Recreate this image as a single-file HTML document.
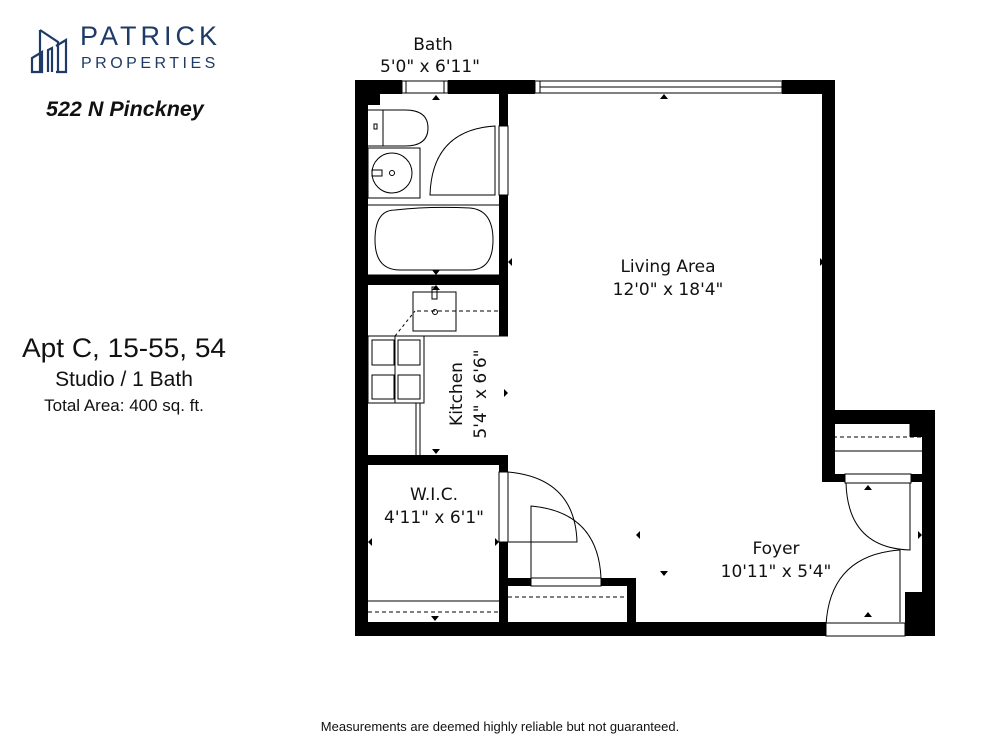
<!DOCTYPE html>
<html><head><meta charset="utf-8"><style>
html,body{margin:0;padding:0;background:#fff;}
body{width:1000px;height:750px;position:relative;overflow:hidden;font-family:"Liberation Sans","DejaVu Sans",sans-serif;}
</style></head><body>
<svg width="1000" height="750" viewBox="0 0 1000 750" xmlns="http://www.w3.org/2000/svg" style="position:absolute;left:0;top:0">
<!-- Logo -->
<g fill="none" stroke="#1e3a66" stroke-width="2.2">
<path d="M32 72 V58 L42 52 V72 Z"/>
<path d="M40 30 V72 M40 30 L58 42 V72"/>
<path d="M48 72 V50 L52 48 V72"/>
<path d="M56 46 L66 40 V72 H56"/>
</g>
<text x="80" y="45" font-family="Liberation Sans, sans-serif" font-size="27" fill="#1e3a66" letter-spacing="4">PATRICK</text>
<text x="81" y="68" font-family="Liberation Sans, sans-serif" font-size="16" fill="#1e3a66" letter-spacing="3.5">PROPERTIES</text>
<text x="46" y="116" font-size="21.5" font-weight="bold" font-style="italic" fill="#111">522 N Pinckney</text>
<text x="124" y="357" font-size="27" text-anchor="middle" fill="#111" textLength="204" lengthAdjust="spacingAndGlyphs">Apt C, 15-55, 54</text>
<text x="124" y="386" font-size="21" text-anchor="middle" fill="#111">Studio / 1 Bath</text>
<text x="124" y="411" font-size="17" text-anchor="middle" fill="#111">Total Area: 400 sq. ft.</text>
<text x="500" y="731" font-size="13" text-anchor="middle" fill="#111">Measurements are deemed highly reliable but not guaranteed.</text>

<!-- Walls -->
<g fill="#000">
<rect x="355" y="80" width="47" height="14"/>
<rect x="448" y="80" width="87" height="14"/>
<rect x="782" y="80" width="53" height="14"/>
<rect x="355" y="80" width="13" height="556"/>
<rect x="355" y="80" width="25" height="25"/>
<rect x="822" y="80" width="13" height="402"/>
<rect x="822" y="410" width="113" height="14"/>
<rect x="922" y="410" width="13" height="226"/>
<rect x="822" y="474" width="23" height="8"/>
<rect x="911" y="474" width="11" height="8"/>
<rect x="910" y="424" width="12" height="13"/>
<rect x="905" y="592" width="17" height="44"/>
<rect x="355" y="622" width="471" height="14"/>
<rect x="905" y="622" width="30" height="14"/>
<rect x="499" y="94" width="9" height="242"/>
<rect x="368" y="275" width="140" height="10"/>
<rect x="368" y="455" width="140" height="10"/>
<rect x="499" y="455" width="9" height="17"/>
<rect x="499" y="542" width="9" height="80"/>
<rect x="499" y="578" width="32" height="8"/>
<rect x="601" y="578" width="35" height="8"/>
<rect x="627" y="578" width="9" height="44"/>
</g>
<!-- windows -->
<g fill="none" stroke="#000" stroke-width="1">
<rect x="402" y="81" width="46" height="12"/>
<line x1="406" y1="81" x2="406" y2="93"/><line x1="444" y1="81" x2="444" y2="93"/>
<rect x="535" y="81" width="247" height="12"/>
<line x1="540" y1="81" x2="540" y2="93"/>
<line x1="540" y1="87" x2="782" y2="87"/>
</g>
<g fill="none" stroke="#000" stroke-width="1">
<!-- toilet -->
<path d="M368 110 H405 Q428 110 428 128 Q428 146 405 146 H368"/>
<line x1="383" y1="110" x2="383" y2="146"/>
<rect x="374" y="124" width="3" height="5"/>
<!-- sink -->
<rect x="368" y="148" width="52" height="50"/>
<circle cx="392" cy="173" r="20"/>
<circle cx="392" cy="173" r="2.5"/>
<rect x="372" y="170" width="10" height="6"/>
<!-- shower door -->
<path d="M430 195 Q432 130 495 126 V195 Z"/>
<rect x="499" y="126" width="9" height="69" fill="#fff"/>
<line x1="368" y1="205" x2="499" y2="205"/>
<!-- tub -->
<path d="M395 210 Q375 210 375 240 Q375 270 400 270 H470 Q493 270 493 240 Q493 210 470 208 Q430 206 395 210Z"/>
<line x1="368" y1="275" x2="499" y2="275"/>
<!-- kitchen sink -->
<rect x="413" y="292" width="43" height="39"/>
<rect x="432" y="287" width="5" height="12"/>
<circle cx="435" cy="312" r="2.5"/>
<line x1="417" y1="311" x2="499" y2="311" stroke-dasharray="4,3"/>
<line x1="395" y1="336" x2="415" y2="311" stroke-dasharray="3,3"/>
<line x1="368" y1="336" x2="508" y2="336"/>
<!-- stove -->
<rect x="368" y="336" width="56" height="67"/>
<rect x="372" y="340" width="22" height="25"/><rect x="398" y="340" width="22" height="25"/>
<rect x="372" y="375" width="22" height="24"/><rect x="398" y="375" width="22" height="24"/>
<line x1="395" y1="336" x2="395" y2="403"/>
<line x1="416" y1="403" x2="416" y2="455"/><line x1="420" y1="403" x2="420" y2="455"/>
<!-- WIC shelf -->
<line x1="368" y1="601" x2="499" y2="601"/>
<line x1="368" y1="612" x2="499" y2="612" stroke-dasharray="4,3"/>
<!-- WIC doors -->
<rect x="499" y="472" width="9" height="70" fill="#fff"/>
<path d="M508 472 Q575 478 577 542 H508"/>
<path d="M531 578 V506 Q598 512 601 578"/>
<rect x="531" y="578" width="70" height="8" fill="#fff"/>
<line x1="508" y1="597" x2="627" y2="597" stroke-dasharray="4,3"/>
<!-- entry closet -->
<line x1="833" y1="437" x2="922" y2="437" stroke-dasharray="4,3"/>
<line x1="833" y1="451" x2="922" y2="451"/>
<line x1="910" y1="424" x2="910" y2="437"/>
<rect x="845" y="474" width="66" height="9" fill="#fff"/>
<!-- front doors -->
<path d="M846 483 Q848 548 910 550 V483"/>
<path d="M900 550 Q830 555 826 625 M900 550 V622"/>
<rect x="826" y="623" width="79" height="13" fill="#fff"/>
</g>
<!-- markers -->
<g fill="#000">
<path d="M432 100 l4 -5 l4 5z"/>
<path d="M432 270 l4 5 l4 -5z"/>
<path d="M432 290 l4 -5 l4 5z"/>
<path d="M432 449 l4 5 l4 -5z"/>
<path d="M432 461 l4 -5 l4 5z"/>
<path d="M431 616 l4 5 l4 -5z"/>
<path d="M660 99 l4 -5 l4 5z"/>
<path d="M660 571 l4 5 l4 -5z"/>
<path d="M512 258 l-4 4 l4 4z"/>
<path d="M820 258 l4 4 l-4 4z"/>
<path d="M504 389 l4 4 l-4 4z"/>
<path d="M640 531 l-4 4 l4 4z"/>
<path d="M372 538 l-4 4 l4 4z"/>
<path d="M495 538 l4 4 l-4 4z"/>
<path d="M918 531 l4 4 l-4 4z"/>
<path d="M864 490 l4 -5 l4 5z"/>
<path d="M864 617 l4 -5 l4 5z"/>
</g>
<!-- labels -->
<g font-family="DejaVu Sans, sans-serif" font-size="17" fill="#111" text-anchor="middle">
<text x="433" y="50">Bath</text>
<text x="430" y="72">5'0" x 6'11"</text>
<text x="668" y="272">Living Area</text>
<text x="668" y="295">12'0" x 18'4"</text>
<text x="434" y="500">W.I.C.</text>
<text x="434" y="523">4'11" x 6'1"</text>
<text x="776" y="554">Foyer</text>
<text x="776" y="577">10'11" x 5'4"</text>
<text transform="translate(462,394) rotate(-90)">Kitchen</text>
<text transform="translate(486,394) rotate(-90)">5'4" x 6'6"</text>
</g>
</svg>
</body></html>
